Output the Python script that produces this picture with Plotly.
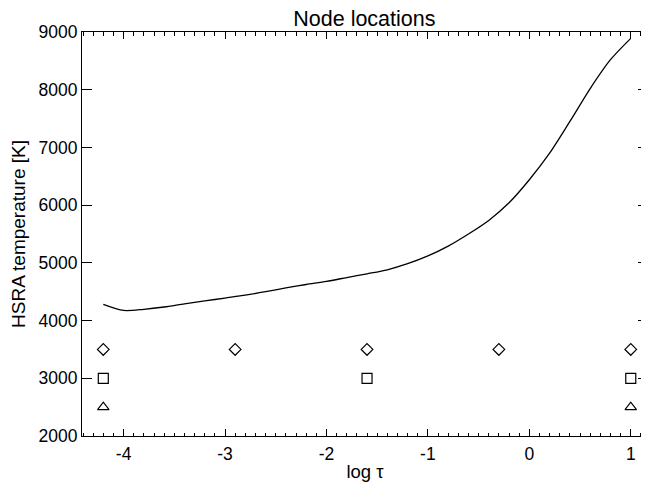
import plotly.graph_objects as go

# HSRA temperature curve
log_tau = [-4.2, -4.0, -3.8, -3.6, -3.4, -3.2, -3.0, -2.8, -2.6, -2.4, -2.2, -2.0,
           -1.8, -1.6, -1.4, -1.2, -1.0, -0.8, -0.6, -0.4, -0.2, 0.0, 0.2, 0.4,
           0.6, 0.8, 1.0]
temperature = [4280, 4175, 4195, 4235, 4290, 4340, 4390, 4440, 4500, 4565, 4625, 4680,
               4745, 4810, 4880, 4985, 5120, 5290, 5500, 5735, 6040, 6440, 6900, 7450,
               8020, 8520, 8890]

# Node locations
diamond_x = [-4.2, -2.9, -1.6, -0.3, 1.0]
diamond_y = [3500, 3500, 3500, 3500, 3500]
square_x = [-4.2, -1.6, 1.0]
square_y = [3000, 3000, 3000]
triangle_x = [-4.2, 1.0]
triangle_y = [2500, 2500]

FONT = "Liberation Sans, Arial, Helvetica, sans-serif"

fig = go.Figure()
fig.add_trace(go.Scatter(x=log_tau, y=temperature, mode="lines",
                         line=dict(color="black", width=1.3, shape="spline", smoothing=0.8),
                         showlegend=False))
fig.add_trace(go.Scatter(x=diamond_x, y=diamond_y, mode="markers",
                         marker=dict(symbol="diamond-open", size=9, color="black",
                                     line=dict(width=1.2, color="black")),
                         showlegend=False))
fig.add_trace(go.Scatter(x=square_x, y=square_y, mode="markers",
                         marker=dict(symbol="square-open", size=10, color="black",
                                     line=dict(width=1.2, color="black")),
                         showlegend=False))
fig.add_trace(go.Scatter(x=triangle_x, y=triangle_y, mode="markers",
                         marker=dict(symbol="triangle-up-open", size=10, color="black",
                                     line=dict(width=1.2, color="black")),
                         showlegend=False))

fig.update_layout(
    width=641, height=476,
    margin=dict(l=74, r=1, t=24, b=48),
    paper_bgcolor="white", plot_bgcolor="white",
    font=dict(family=FONT, size=17.5, color="black"),
    title=dict(text="Node locations", x=0.556, xanchor="center", y=0.979, yanchor="middle",
               font=dict(family=FONT, size=21.5, color="black")),
    xaxis=dict(range=[-4.41, 1.17], tickmode="array", tickvals=[-4, -3, -2, -1, 0, 1],
               ticktext=["-4", "-3", "-2", "-1", "0", "1"],
               ticks="inside", ticklen=7, tickwidth=1, tickcolor="black",
               minor=dict(dtick=0.1, ticks="inside", ticklen=3.5, tickwidth=1, tickcolor="black"),
               showline=True, linecolor="black", linewidth=1, mirror="allticks",
               showgrid=False, zeroline=False, ticklabelstandoff=2, automargin=False,
               title=dict(text="log τ", standoff=2, font=dict(size=18.5))),
    yaxis=dict(range=[2000, 9000], tickmode="array",
               tickvals=[2000, 3000, 4000, 5000, 6000, 7000, 8000, 9000],
               ticks="inside", ticklen=10, tickwidth=1, tickcolor="black",
               showline=True, linecolor="black", linewidth=1, mirror="allticks",
               showgrid=False, zeroline=False, ticklabelstandoff=0, automargin=False,
               title=dict(text="HSRA temperature [K]", standoff=8, font=dict(size=19))),
)

fig.write_html("out.html")
